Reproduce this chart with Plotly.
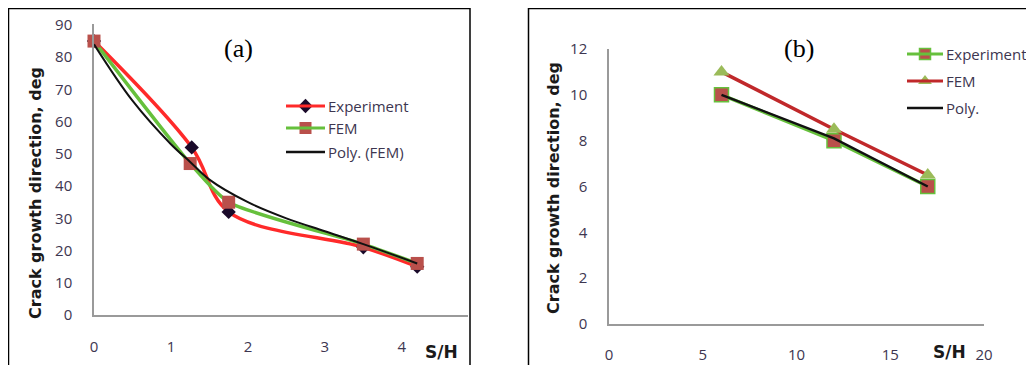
import plotly.graph_objects as go

W, H = 1034, 365
OFF = 8  # page body margin offset in the browser

# Panel (a) data
a_exp_x = [0, 1.27, 1.75, 3.5, 4.2]
a_exp_y = [85, 52, 32, 21, 15]
a_fem_x = [0, 1.25, 1.75, 3.5, 4.2]
a_fem_y = [85, 47, 35, 22, 16]
a_poly_x = [0, 0.5, 1.0, 1.25, 1.5, 2.0, 2.5, 3.0, 3.5, 4.2]
a_poly_y = [84, 66.5, 53, 47.5, 42, 35, 30, 26, 22, 16]
a_xticks = [0, 1, 2, 3, 4]
a_yticks = [0, 10, 20, 30, 40, 50, 60, 70, 80, 90]

# Panel (b) data
b_exp_x = [6, 12, 17]
b_exp_y = [10, 8, 6]
b_fem_x = [6, 12, 17]
b_fem_y = [11, 8.5, 6.5]
b_poly_x = [6, 12, 17]
b_poly_y = [10, 8.1, 6]
b_xticks = [0, 5, 10, 15, 20]
b_yticks = [0, 2, 4, 6, 8, 10, 12]

def px(x):
    return (x - OFF) / W

def py(y):
    return 1 - (y - OFF) / H

fig = go.Figure()

SQ = "#b9504b"
TRI = "#9bbb59"

# (a)
fig.add_trace(go.Scatter(x=a_exp_x, y=a_exp_y, mode="lines+markers", xaxis="x", yaxis="y",
                         line=dict(color="#ff2a2a", width=3.5, shape="spline", smoothing=1.0),
                         marker=dict(symbol="diamond", size=11, color="#1a0a2a"), showlegend=False,
                         cliponaxis=False))
fig.add_trace(go.Scatter(x=a_fem_x, y=a_fem_y, mode="lines+markers", xaxis="x", yaxis="y",
                         line=dict(color="#66c03c", width=3.5, shape="spline", smoothing=0.6),
                         marker=dict(symbol="square", size=13, color=SQ), showlegend=False,
                         cliponaxis=False))
fig.add_trace(go.Scatter(x=a_poly_x, y=a_poly_y, mode="lines", xaxis="x", yaxis="y",
                         line=dict(color="#111111", width=2, shape="spline", smoothing=1.0),
                         showlegend=False))

# (b)
fig.add_trace(go.Scatter(x=b_exp_x, y=b_exp_y, mode="lines+markers", xaxis="x2", yaxis="y2",
                         line=dict(color="#66c03c", width=3.5),
                         marker=dict(symbol="square", size=14, color=SQ, line=dict(color="#66c03c", width=1.5)),
                         showlegend=False))
fig.add_trace(go.Scatter(x=b_fem_x, y=b_fem_y, mode="lines+markers", xaxis="x2", yaxis="y2",
                         line=dict(color="#c0282a", width=3.5),
                         marker=dict(symbol="triangle-up", size=14, color=TRI), showlegend=False))
fig.add_trace(go.Scatter(x=b_poly_x, y=b_poly_y, mode="lines", xaxis="x2", yaxis="y2",
                         line=dict(color="#111111", width=2.5), showlegend=False))

tickfont = dict(family="Open Sans, DejaVu Sans, sans-serif", size=15, color="#3d3650")
axline = dict(showline=True, linecolor="#9a9a9a", linewidth=1.5, showgrid=False, zeroline=False,
              ticks="", tickfont=tickfont, automargin=False)

fig.update_layout(
    template="none",
    width=W, height=H, margin=dict(l=0, r=0, t=0, b=0, pad=0),
    plot_bgcolor="rgba(0,0,0,0)", paper_bgcolor="white", showlegend=False,
    xaxis=dict(domain=[px(94), px(468)], range=[0, 4.86], tickvals=a_xticks, anchor="y",
               ticklabelstandoff=17, **axline),
    yaxis=dict(domain=[py(315), py(24)], range=[0, 90.3], tickvals=a_yticks, anchor="x",
               ticklabelstandoff=17, **axline),
    xaxis2=dict(domain=[px(609), px(984)], range=[0, 20], tickvals=b_xticks, anchor="y2",
                ticklabelstandoff=16, **axline),
    yaxis2=dict(domain=[py(324), py(49)], range=[0, 12], tickvals=b_yticks, anchor="x2",
                ticklabelstandoff=17, **axline),
)

shapes = []
# panel borders
shapes.append(dict(type="rect", xref="paper", yref="paper", x0=px(8.5), x1=px(470), y0=py(380), y1=py(8.5),
                   line=dict(color="black", width=1.5)))
shapes.append(dict(type="rect", xref="paper", yref="paper", x0=px(528.5), x1=px(1050), y0=py(380), y1=py(8.5),
                   line=dict(color="black", width=1.5)))

annotations = []

def centered_text(text, x, y, font, angle=0):
    annotations.append(dict(text=text, xref="paper", yref="paper", x=px(x), y=py(y),
                            xanchor="center", yanchor="middle", textangle=angle,
                            showarrow=False, font=font))

ytitle_font = dict(family="DejaVu Sans, sans-serif", size=16, color="#1a1a1a")
centered_text("<b>Crack growth direction, deg</b>", 35, 193, ytitle_font, -90)
centered_text("<b>Crack growth direction, deg</b>", 553, 188, ytitle_font, -90)
sh_font = dict(family="DejaVu Sans, sans-serif", size=17, color="#1a1a1a")
centered_text("<b>S/H</b>", 441, 352, sh_font)
centered_text("<b>S/H</b>", 949, 352, sh_font)
title_font = dict(family="Liberation Serif, Times New Roman, serif", size=26, color="black")
centered_text("(a)", 238, 49, title_font)
centered_text("(b)", 799, 49, title_font)

# Legends (drawn manually)
leg_font = dict(family="Open Sans, DejaVu Sans, sans-serif", size=15, color="#3d3650")

def legend_row(x0, x1, y, color, width, label, marker=None):
    shapes.append(dict(type="line", xref="paper", yref="paper", x0=px(x0), x1=px(x1), y0=py(y), y1=py(y),
                       line=dict(color=color, width=width)))
    annotations.append(dict(text=label, xref="paper", yref="paper", x=px(x1 + 1), y=py(y),
                            xanchor="left", yanchor="middle", showarrow=False, font=leg_font))
    if marker:
        fig.add_trace(go.Scatter(x=[px((x0 + x1) / 2)], y=[py(y)], xaxis="x3", yaxis="y3", mode="markers",
                                 marker=marker, showlegend=False, hoverinfo="skip"))

legend_row(286, 325, 106, "#ff2a2a", 3, "Experiment", dict(symbol="diamond", size=11, color="#1a0a2a"))
legend_row(286, 325, 128, "#66c03c", 3, "FEM", dict(symbol="square", size=12, color=SQ))
legend_row(286, 325, 152, "#111111", 2.5, "Poly. (FEM)")
legend_row(907, 943, 54, "#66c03c", 3, "Experiment", dict(symbol="square", size=11, color=SQ, line=dict(color="#66c03c", width=1.5)))
legend_row(907, 943, 81, "#c0282a", 3, "FEM", dict(symbol="triangle-up", size=12, color=TRI))
legend_row(907, 943, 108, "#111111", 2.5, "Poly.")

fig.update_layout(
    xaxis3=dict(domain=[0, 1], range=[0, 1], visible=False, anchor="y3", automargin=False),
    yaxis3=dict(domain=[0, 1], range=[0, 1], visible=False, anchor="x3", automargin=False),
    shapes=shapes, annotations=annotations,
)

fig.write_html("out.html")
